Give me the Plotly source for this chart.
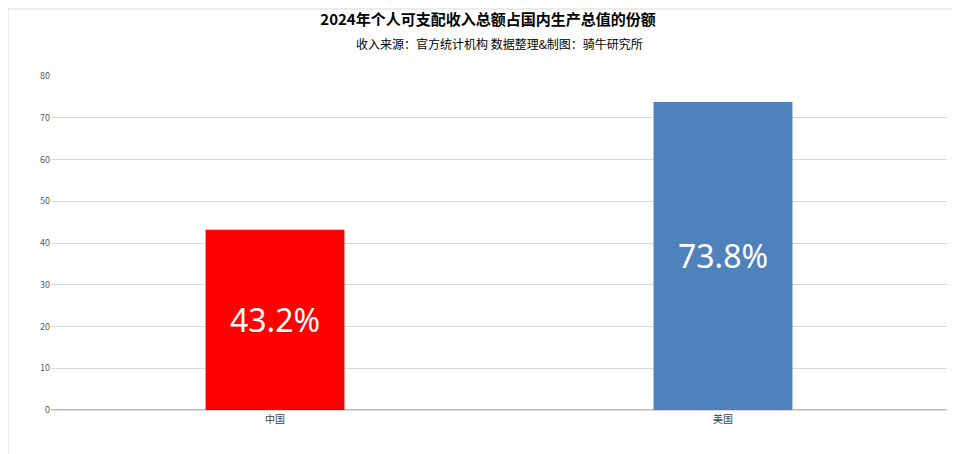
import plotly.graph_objects as go

countries = ["中国", "美国"]
shares = [43.2, 73.8]
labels = ["43.2%", "73.8%"]
colors = ["#ff0000", "#4f81bd"]

fig = go.Figure(go.Bar(
    x=countries, y=shares, text=labels, marker=dict(color=colors, line=dict(width=0)),
    textposition="inside", insidetextanchor="middle",
    textfont=dict(color="white", size=32, family="Noto Sans"),
))
fig.update_layout(
    width=960, height=454, plot_bgcolor="white", paper_bgcolor="white",
    margin=dict(l=43, r=21, t=68, b=52, autoexpand=False),
    bargap=0.69, showlegend=False,
    font=dict(family="Noto Sans CJK SC", size=10, color="#404040"),
    title=dict(text="<b>2024年个人可支配收入总额占国内生产总值的份额</b>",
               x=0.5, y=0.985, yanchor="top", font=dict(size=15, color="#000000")),
    annotations=[dict(text="收入来源：官方统计机构 数据整理&制图：骑牛研究所", xref="paper", yref="paper",
                      x=0.5, y=1.0, yshift=22, yanchor="bottom", showarrow=False,
                      font=dict(size=12, color="#000000"))],
    shapes=[dict(type="rect", xref="paper", yref="paper", x0=-43/896, x1=1+20/896, y0=-51/334, y1=1+67/334,
                 line=dict(color="#d9d9d9", width=1))],
)
fig.update_yaxes(range=[0, 80], dtick=10, gridcolor="#d9d9d9", zeroline=True, zerolinecolor="#bfbfbf",
                 tickfont=dict(size=9, color="#595959"), ticks="", ticklen=0)
fig.update_xaxes(showline=True, linecolor="#d9d9d9", tickfont=dict(size=10, color="#404040"))
fig.write_html("out.html")
